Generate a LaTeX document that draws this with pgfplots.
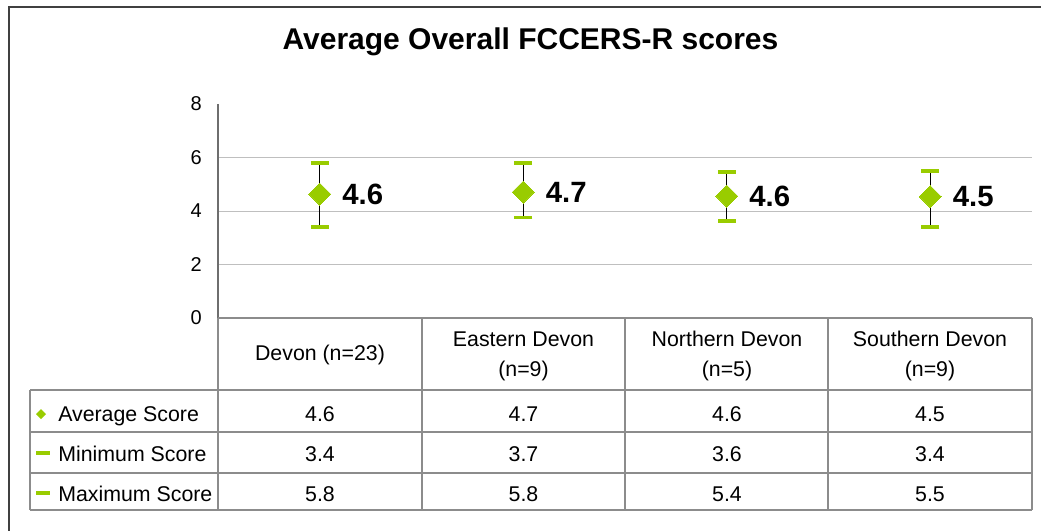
\documentclass[border=0pt]{standalone}
\usepackage{pgfplots}
\pgfplotsset{compat=1.18}
\usepackage{pgfplotstable}
\usepackage{fontspec}
\setmainfont{Liberation Sans}
\definecolor{mygreen}{HTML}{99CC00}
\definecolor{gridgray}{HTML}{BFBFBF}
\definecolor{tabgray}{HTML}{8C8C8C}
\definecolor{axgray}{HTML}{6E6E6E}
\definecolor{framegray}{HTML}{404040}

\pgfplotstableread{
x avg min max lab
0 4.63 3.40 5.79 4.6
1 4.71 3.76 5.80 4.7
2 4.56 3.63 5.46 4.6
3 4.54 3.40 5.49 4.5
}\scores

\begin{document}
\begin{tikzpicture}
\useasboundingbox (0,0) rectangle (780.75pt,-398.25pt);
\begin{axis}[
  at={(163.5pt,-238.5pt)}, anchor=south west,
  scale only axis, width=610.5pt, height=160.5pt,
  xmin=-0.5, xmax=3.5, ymin=0, ymax=8,
  xtick=\empty, ytick={0,2,4,6,8},
  extra y ticks={2,4,6}, extra y tick labels={},
  extra y tick style={grid=major},
  major grid style={gridgray, line width=0.75pt},
  major tick length=0pt,
  axis line style={draw=none},
  yticklabel style={font=\fontsize{15}{15}\selectfont, anchor=east, inner sep=0pt, xshift=-12pt},
  /pgf/number format/assume math mode=true,
  clip=false,
]
\addplot[color=mygreen, only marks, mark=square*, mark size=5.83pt,
  mark options={rotate=45, fill=mygreen, draw=mygreen, line width=0pt},
  point meta=explicit symbolic,
  nodes near coords,
  every node near coord/.append style={anchor=west, inner sep=0pt, xshift=17pt, yshift=0pt, font=\fontsize{22}{22}\selectfont\bfseries, text=black},
  error bars/.cd, y dir=both, y explicit,
  error bar style={black, line width=0.75pt},
  error mark=|,
  error mark options={draw=mygreen, line width=2.6pt, mark size=6.75pt, rotate=0},
] table[x=x, y=avg, meta=lab,
  y error plus expr=\thisrow{max}-\thisrow{avg},
  y error minus expr=\thisrow{avg}-\thisrow{min}] {\scores};
\end{axis}
\begin{scope}[x=0.75pt, y=-0.75pt]
  % outer frame
  \draw[framegray, line width=1.5pt] (9,545) -- (9,7) -- (1050,7);
  % axes
  \draw[axgray, line width=0.9pt] (218,104) -- (218,318);
  % table lines
  \draw[tabgray, line width=1pt] (218,318) -- (1032,318);
  \foreach \yy in {390,432,473,510} \draw[tabgray, line width=1pt] (30,\yy) -- (1032,\yy);
  \draw[tabgray, line width=1pt] (30,390) -- (30,510);
  \foreach \xx in {218,422,625,828,1032} \draw[tabgray, line width=1pt] (\xx,318) -- (\xx,510);
  % title
  \node[anchor=base, inner sep=0pt, font=\fontsize{22.5}{22.5}\selectfont\bfseries] at (530.5,50) {Average Overall FCCERS-R scores};
  % header
  \begin{scope}[every node/.style={anchor=base, inner sep=0pt, font=\fontsize{16}{16}\selectfont}]
    \node at (320,360) {Devon (n=23)};
    \node at (523.5,346) {Eastern Devon};
    \node at (523.5,376) {(n=9)};
    \node at (727,346) {Northern Devon};
    \node at (727,376) {(n=5)};
    \node at (930,346) {Southern Devon};
    \node at (930,376) {(n=9)};
    % row labels
    \node[anchor=base west] at (58,421) {Average Score};
    \node[anchor=base west] at (58,461) {Minimum Score};
    \node[anchor=base west] at (58,501) {Maximum Score};
    % values
    \node at (320,421) {4.6}; \node at (523.5,421) {4.7}; \node at (727,421) {4.6}; \node at (930,421) {4.5};
    \node at (320,461) {3.4}; \node at (523.5,461) {3.7}; \node at (727,461) {3.6}; \node at (930,461) {3.4};
    \node at (320,501) {5.8}; \node at (523.5,501) {5.8}; \node at (727,501) {5.4}; \node at (930,501) {5.5};
  \end{scope}
  % legend keys
  \fill[mygreen] (41,409) -- (46,414) -- (41,419) -- (36,414) -- cycle;
  \draw[mygreen, line width=2.3pt] (36,453) -- (50,453);
  \draw[mygreen, line width=2.3pt] (36,493) -- (50,493);
\end{scope}
\end{tikzpicture}
\end{document}
